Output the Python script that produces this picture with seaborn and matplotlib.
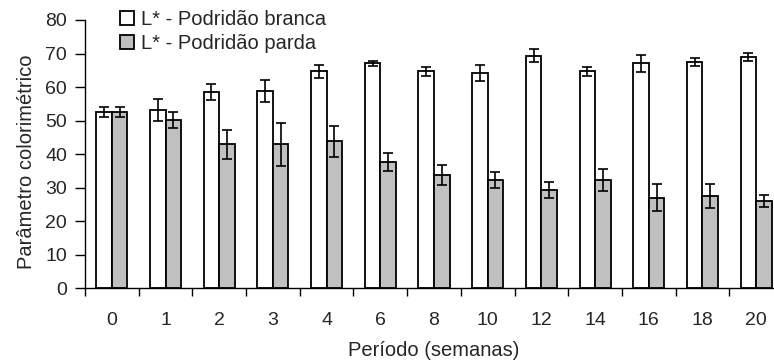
import numpy as np
import pandas as pd
import seaborn as sns
import matplotlib.pyplot as plt

semanas = ['0', '1', '2', '3', '4', '6', '8', '10', '12', '14', '16', '18', '20']
branca = [52.5, 53.2, 58.4, 58.9, 64.7, 67.1, 64.7, 64.2, 69.4, 64.7, 67.1, 67.6, 69.0]
branca_err = [1.5, 3.2, 2.4, 3.3, 2.0, 0.8, 1.4, 2.5, 2.0, 1.4, 2.6, 1.2, 1.2]
parda = [52.5, 50.2, 42.9, 42.9, 43.8, 37.7, 33.8, 32.3, 29.3, 32.3, 27.0, 27.5, 26.0]
parda_err = [1.5, 2.4, 4.4, 6.3, 4.6, 2.7, 3.0, 2.4, 2.3, 3.2, 4.1, 3.7, 1.9]
series = ['L* - Podridão branca', 'L* - Podridão parda']

df = pd.DataFrame({
    'Período': semanas * 2,
    'Valor': branca + parda,
    'Série': [series[0]] * len(semanas) + [series[1]] * len(semanas),
})

sns.set_style('ticks')
plt.rcParams['font.family'] = ['Liberation Sans', 'DejaVu Sans']

fig = plt.figure(figsize=(7.74, 3.64), dpi=100)
ax = fig.add_axes([85 / 774, (364 - 288.3) / 364, 698 / 774, 268.3 / 364])

sns.barplot(data=df, x='Período', y='Valor', hue='Série', order=semanas,
            hue_order=series, palette=['white', '#C0C0C0'], width=0.58,
            errorbar=None, edgecolor='black', linewidth=1.3, saturation=1,
            ax=ax)

# barras de erro
for cont, err in zip(ax.containers, [branca_err, parda_err]):
    xs = [p.get_x() + p.get_width() / 2 for p in cont.patches]
    ys = [p.get_height() for p in cont.patches]
    ax.errorbar(xs, ys, yerr=err, fmt='none', ecolor='black', elinewidth=1.2,
                capsize=3.3, capthick=1.2, zorder=5)

ax.set_xlim(-0.5, 12.5)
ax.set_ylim(0, 80)
ax.set_yticks(range(0, 81, 10))
ax.tick_params(axis='y', labelsize=14, length=7, width=1, pad=6, color='black')

ax.set_xticks(np.arange(-0.5, 13, 1))
ax.set_xticklabels([])
ax.set_xticks(range(len(semanas)), minor=True)
ax.set_xticklabels(semanas, minor=True)
ax.tick_params(axis='x', which='major', length=6, width=1, color='black')
ax.tick_params(axis='x', which='minor', length=0, labelsize=14, pad=17)

sns.despine(ax=ax)
for s in ['left', 'bottom']:
    ax.spines[s].set_color('black')
    ax.spines[s].set_linewidth(1)

ax.set_xlabel('Período (semanas)', fontsize=14.5)
ax.set_ylabel('Parâmetro colorimétrico', fontsize=14.5)
ax.xaxis.set_label_coords(0.5, -0.195)
ax.yaxis.set_label_coords(-0.07, 0.47)

handles, labels = ax.get_legend_handles_labels()
ax.legend(handles, labels, loc='upper left', bbox_to_anchor=(120 / 774, 1 - 10 / 364),
          bbox_transform=fig.transFigure, frameon=False, fontsize=14.5,
          handlelength=0.7, handleheight=0.7, handletextpad=0.35,
          labelspacing=0.25, borderpad=0, borderaxespad=0)

fig.savefig('out.png', dpi=100)
